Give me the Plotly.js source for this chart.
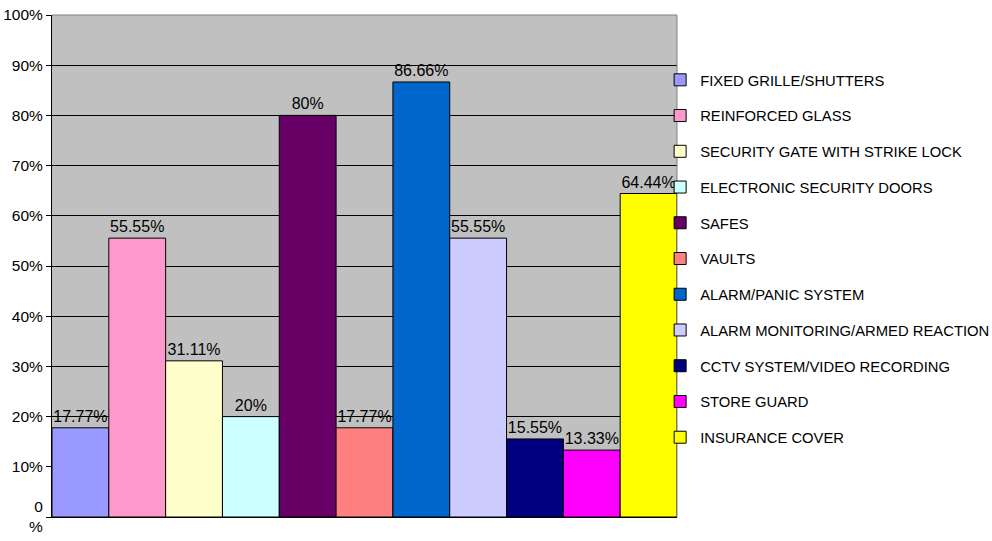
<!DOCTYPE html>
<html>
<head>
<meta charset="utf-8">
<script src="https://cdn.plot.ly/plotly-3.0.1.min.js"></script>
<style>html,body{margin:0;padding:0;background:#fff;}#chart{width:992px;height:541px;}</style>
</head>
<body>
<div id="chart"></div>
<script>
const categories = [
  "FIXED GRILLE/SHUTTERS",
  "REINFORCED GLASS",
  "SECURITY GATE WITH STRIKE LOCK",
  "ELECTRONIC SECURITY DOORS",
  "SAFES",
  "VAULTS",
  "ALARM/PANIC SYSTEM",
  "ALARM MONITORING/ARMED REACTION",
  "CCTV SYSTEM/VIDEO RECORDING",
  "STORE GUARD",
  "INSURANCE COVER"
];
const values = [17.77, 55.55, 31.11, 20, 80, 17.77, 86.66, 55.55, 15.55, 13.33, 64.44];
const valueLabels = ["17.77%", "55.55%", "31.11%", "20%", "80%", "17.77%", "86.66%", "55.55%", "15.55%", "13.33%", "64.44%"];
const colors = ["#9999FF", "#FF99CC", "#FFFFCC", "#CCFFFF", "#660066", "#FF8080", "#0066CC", "#CCCCFF", "#000080", "#FF00FF", "#FFFF00"];
const tickVals = [0, 10, 20, 30, 40, 50, 60, 70, 80, 90, 100];
const tickText = ["0<br>%", "10%", "20%", "30%", "40%", "50%", "60%", "70%", "80%", "90%", "100%"];

const FONT = "Liberation Sans, Arial, sans-serif";

const traces = categories.map((name, i) => ({
  type: "bar",
  name: name,
  legendgroup: "g" + i,
  x: [""],
  y: [values[i]],
  text: [valueLabels[i]],
  textposition: "outside",
  constraintext: "none",
  cliponaxis: false,
  textfont: {family: FONT, size: 16, color: "#000"},
  marker: {color: colors[i], line: {color: "#000", width: 1}},
  hoverinfo: "name+y"
}));

const layout = {
  width: 992,
  height: 541,
  margin: {l: 52, r: 315, t: 15, b: 24, autoexpand: false},
  paper_bgcolor: "#ffffff",
  plot_bgcolor: "#C0C0C0",
  barmode: "group",
  bargap: 0,
  bargroupgap: 0,
  font: {family: FONT, size: 15.5, color: "#000"},
  showlegend: true,
  legend: {
    x: 0.973, xanchor: "left",
    y: 0.903, yanchor: "top",
    font: {family: FONT, size: 14.8, color: "#000"},
    tracegroupgap: 13.5,
    bgcolor: "rgba(0,0,0,0)",
    borderwidth: 0
  },
  xaxis: {
    showticklabels: false,
    showgrid: false,
    zeroline: false,
    showline: true,
    linecolor: "#000",
    linewidth: 1,
    ticks: ""
  },
  yaxis: {
    range: [0, 100],
    tickvals: tickVals,
    ticktext: tickText,
    ticklabeloverflow: "allow",
    showgrid: true,
    gridcolor: "#000",
    gridwidth: 1,
    zeroline: false,
    showline: true,
    linecolor: "#000",
    linewidth: 1,
    ticks: "outside",
    ticklen: 5,
    tickcolor: "#000",
    tickfont: {family: FONT, size: 15.5, color: "#000"}
  },
  shapes: [{
    type: "path",
    xref: "paper", yref: "paper",
    path: "M0,1 L1,1 L1,0",
    line: {color: "#808080", width: 1},
    layer: "above"
  }]
};

Plotly.newPlot("chart", traces, layout, {displayModeBar: false, staticPlot: true});
</script>
</body>
</html>
